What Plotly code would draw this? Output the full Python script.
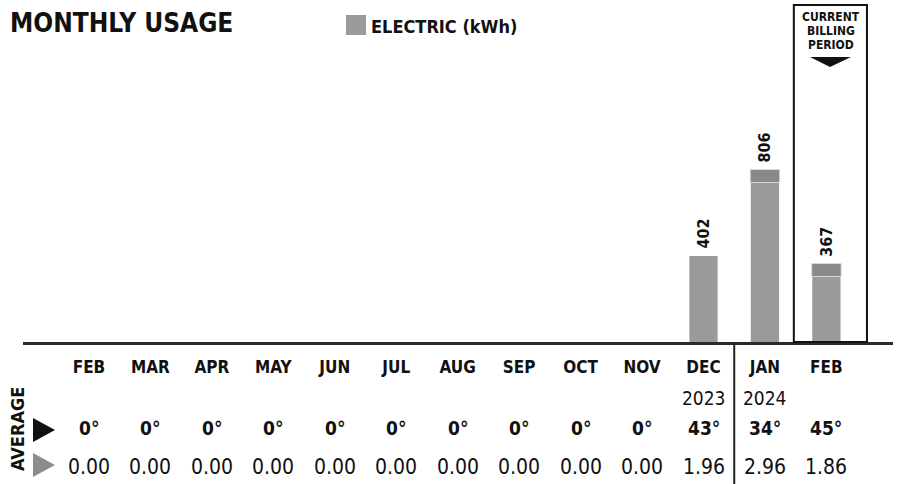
import plotly.graph_objects as go

# ---- data ----
months = ["FEB", "MAR", "APR", "MAY", "JUN", "JUL", "AUG", "SEP", "OCT", "NOV", "DEC", "JAN", "FEB"]
usage_kwh = [None, None, None, None, None, None, None, None, None, None, 402, 806, 367]
years = ["", "", "", "", "", "", "", "", "", "", "2023", "2024", ""]
avg_temp = ["0°", "0°", "0°", "0°", "0°", "0°", "0°", "0°", "0°", "0°", "43°", "34°", "45°"]
avg_daily = ["0.00", "0.00", "0.00", "0.00", "0.00", "0.00", "0.00", "0.00", "0.00", "0.00", "1.96", "2.96", "1.86"]
capped_months = [11, 12]  # bars drawn with a darker top cap

# ---- styling / geometry ----
W, H = 897, 484
ML, MR, MT, MB = 23, 4, 5, 142
NARROW = "Liberation Sans Narrow, DejaVu Sans Condensed, Arial Narrow, sans-serif"
BAR = "#9a9a9a"
CAP = "#898989"
INK = "#111111"
CAP_KWH = 61
BAR_W = 0.46


def px_x(px):
    return (px - ML) / (W - ML - MR)


def px_y(py):
    return (H - MB - py) / (H - MT - MB)


idx = list(range(len(months)))
cur = len(months) - 1

fig = go.Figure()

fig.add_trace(go.Bar(
    x=idx, y=usage_kwh, width=BAR_W,
    marker=dict(color=BAR, line=dict(width=0)),
    hoverinfo="skip", showlegend=False,
))

cap_x = [i for i in capped_months]
cap_base = [usage_kwh[i] - CAP_KWH for i in capped_months]
fig.add_trace(go.Bar(
    x=cap_x, y=[CAP_KWH] * len(cap_x), base=cap_base, width=BAR_W + 0.02,
    marker=dict(color=CAP, line=dict(color="rgba(225,225,225,0.9)", width=1)),
    hoverinfo="skip", showlegend=False,
))

annotations = []

# rotated value labels above the bars
for i, v in zip(idx, usage_kwh):
    if v is None:
        continue
    annotations.append(dict(
        x=i, y=v, xref="x", yref="y", text=f"<b>{v}</b>", showarrow=False,
        textangle=-90, xanchor="center", yanchor="bottom", yshift=5,
        font=dict(family=NARROW, size=16, color=INK),
    ))

# table rows under the axis
for i in idx:
    if years[i]:
        annotations.append(dict(
            x=i, y=px_y(398), xref="x", yref="paper", text=years[i], showarrow=False,
            xanchor="center", yanchor="middle",
            font=dict(family=NARROW, size=19, color=INK),
        ))
    annotations.append(dict(
        x=i, y=px_y(428), xref="x", yref="paper", text=f"<b>{avg_temp[i]}</b>", showarrow=False,
        xanchor="center", yanchor="middle",
        font=dict(family=NARROW, size=19, color=INK),
    ))
    annotations.append(dict(
        x=i, y=px_y(467), xref="x", yref="paper", text=avg_daily[i], showarrow=False,
        xanchor="center", yanchor="middle",
        font=dict(family=NARROW, size=21, color=INK),
    ))

# title and legend
annotations.append(dict(
    x=px_x(8), y=px_y(23), xref="paper", yref="paper", text="<b>MONTHLY USAGE</b>",
    showarrow=False, xanchor="left", yanchor="middle",
    font=dict(family=NARROW, size=26, color=INK),
))
annotations.append(dict(
    x=px_x(369), y=px_y(26), xref="paper", yref="paper", text="<b>ELECTRIC (kWh)</b>",
    showarrow=False, xanchor="left", yanchor="middle",
    font=dict(family=NARROW, size=18, color=INK),
))

# current billing period caption
for txt, py in [("CURRENT", 17), ("BILLING", 31), ("PERIOD", 45)]:
    annotations.append(dict(
        x=px_x(831), y=px_y(py), xref="paper", yref="paper", text=f"<b>{txt}</b>",
        showarrow=False, xanchor="center", yanchor="middle",
        font=dict(family=NARROW, size=12, color=INK),
    ))

# vertical "AVERAGE" label
annotations.append(dict(
    x=px_x(17), y=px_y(429), xref="paper", yref="paper", text="<b>AVERAGE</b>",
    showarrow=False, textangle=-90, xanchor="center", yanchor="middle",
    font=dict(family=NARROW, size=18, color=INK),
))


def tri_path(pts):
    return "M " + " L ".join(f"{px_x(x)},{px_y(y)}" for x, y in pts) + " Z"


shapes = [
    # current billing period frame
    dict(type="rect", xref="x", yref="paper", x0=cur - 0.53, x1=cur + 0.66, y0=0, y1=1,
         line=dict(color=INK, width=2), fillcolor="rgba(0,0,0,0)", layer="above"),
    # year divider
    dict(type="line", xref="x", yref="paper", x0=10.5, x1=10.5, y0=0, y1=px_y(H),
         line=dict(color="#222222", width=2)),
    # legend swatch
    dict(type="rect", xref="paper", yref="paper", x0=px_x(346), x1=px_x(366),
         y0=px_y(35), y1=px_y(15), line=dict(width=0), fillcolor=BAR),
    # arrow in the caption
    dict(type="path", xref="paper", yref="paper",
         path=tri_path([(810, 57), (851, 57), (830, 67)]), fillcolor=INK, line=dict(width=0)),
    # row markers
    dict(type="path", xref="paper", yref="paper",
         path=tri_path([(33, 418), (55, 430), (33, 442)]), fillcolor=INK, line=dict(width=0)),
    dict(type="path", xref="paper", yref="paper",
         path=tri_path([(33, 453), (55, 465), (33, 477)]), fillcolor="#8c8c8c", line=dict(width=0)),
]

px_per_unit = 61.45
x_lo = -(89 - ML) / px_per_unit
x_hi = x_lo + (W - ML - MR) / px_per_unit

fig.update_layout(
    width=W, height=H,
    margin=dict(l=ML, r=MR, t=MT, b=MB),
    paper_bgcolor="white", plot_bgcolor="white",
    barmode="overlay",
    xaxis=dict(
        range=[x_lo, x_hi], tickmode="array", tickvals=idx, ticktext=[f"<b>{m}</b>" for m in months],
        ticks="outside", ticklen=8, tickcolor="rgba(0,0,0,0)",
        tickfont=dict(family=NARROW, size=17, color=INK),
        showline=True, linewidth=3, linecolor="#2b2b2b", showgrid=False, zeroline=False,
        fixedrange=True,
    ),
    yaxis=dict(range=[0, (H - MT - MB) / 0.214], visible=False, fixedrange=True),
    annotations=annotations,
    shapes=shapes,
    font=dict(family=NARROW, color=INK),
)

fig.write_html("out.html", config={"displayModeBar": False})
